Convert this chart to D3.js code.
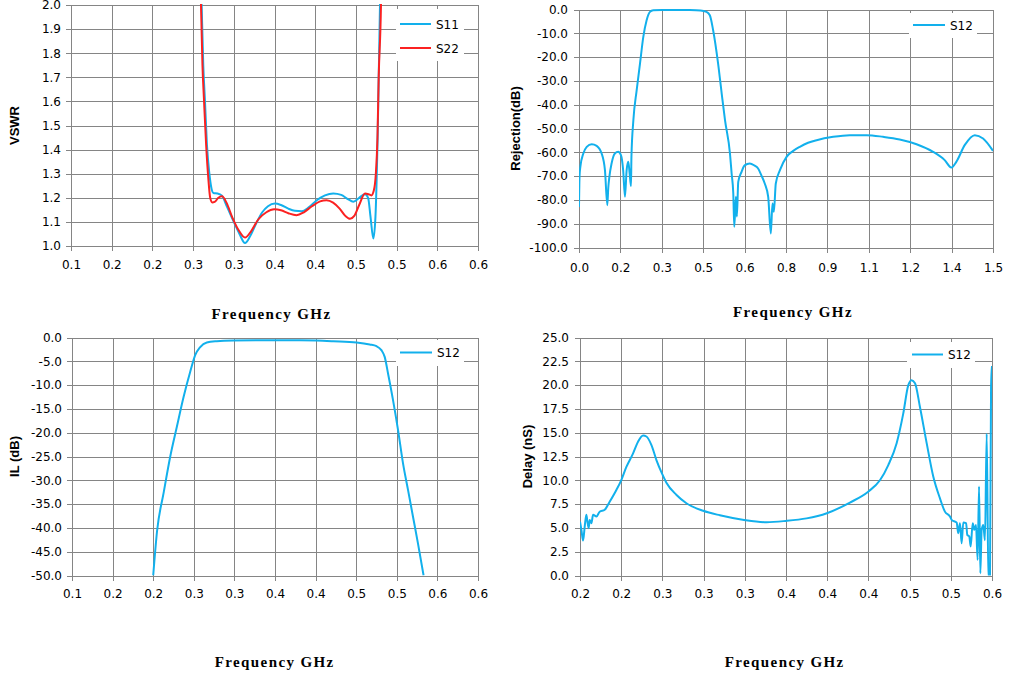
<!DOCTYPE html>
<html><head><meta charset="utf-8">
<script src="https://cdn.jsdelivr.net/npm/d3@7"></script>
<style>body{margin:0;background:#fff}svg{display:block}</style>
</head><body>
<svg id="c" width="1012" height="681"></svg>
<script>
// ---------- DATA ----------
// VSWR panel (top-left)
const vswrS11Freq = [0.255,0.259,0.2605,0.2625,0.2646,0.267,0.270,0.2725,0.2749,0.2800,0.2851,0.292,0.300,0.307,0.3138,0.320,0.327,0.335,0.342,0.3506,0.358,0.367,0.375,0.3834,0.392,0.402,0.412,0.4222,0.432,0.440,0.4469,0.454,0.4612,0.465,0.468,0.4714,0.474,0.4768,0.4796,0.482];
const vswrS11 = [3.0,2.2,2.0,1.75,1.6,1.42,1.3,1.24,1.22,1.218,1.21,1.16,1.10,1.05,1.012,1.04,1.09,1.14,1.165,1.176,1.170,1.155,1.146,1.144,1.16,1.19,1.21,1.218,1.212,1.195,1.184,1.20,1.215,1.20,1.12,1.031,1.12,1.467,2.0,2.6];
const vswrS22Freq = [0.255,0.2585,0.2597,0.2615,0.2634,0.266,0.2687,0.271,0.2735,0.2765,0.281,0.2855,0.291,0.298,0.306,0.3138,0.321,0.330,0.340,0.3495,0.358,0.367,0.377,0.386,0.396,0.406,0.414,0.422,0.430,0.437,0.4428,0.448,0.454,0.4612,0.4655,0.469,0.472,0.4745,0.4765,0.478,0.4808,0.483];
const vswrS22 = [3.0,2.2,2.0,1.75,1.605,1.42,1.28,1.2,1.181,1.183,1.2,1.206,1.18,1.12,1.065,1.035,1.06,1.11,1.14,1.152,1.148,1.136,1.128,1.14,1.165,1.185,1.19,1.18,1.155,1.125,1.113,1.125,1.17,1.218,1.215,1.21,1.23,1.30,1.45,1.7,2.0,2.6];
const vswrXTicks = [0.1,0.15,0.2,0.25,0.3,0.35,0.4,0.45,0.5,0.55,0.6];
const vswrXLabels = ["0.1","0.2","0.2","0.3","0.3","0.4","0.4","0.5","0.5","0.6","0.6"];
const vswrYTicks = [1.0,1.1,1.2,1.3,1.4,1.5,1.6,1.7,1.8,1.9,2.0];

// Rejection panel (top-right)
const rejFreq = [0.000,0.002,0.005,0.0157,0.028,0.046,0.064,0.082,0.094,0.1026,0.106,0.110,0.118,0.130,0.142,0.152,0.160,0.1666,0.1726,0.1786,0.1835,0.1883,0.190,0.197,0.209,0.221,0.233,0.245,0.257,0.269,0.30,0.35,0.40,0.44,0.462,0.474,0.486,0.504,0.517,0.529,0.547,0.553,0.559,0.5626,0.5685,0.572,0.577,0.589,0.600,0.619,0.635,0.649,0.662,0.673,0.6855,0.695,0.701,0.706,0.713,0.728,0.752,0.775,0.800,0.830,0.861,0.921,0.981,1.042,1.102,1.162,1.223,1.283,1.325,1.349,1.367,1.398,1.434,1.464,1.500];
const rejS12 = [-83,-70,-66,-60.5,-57.7,-56.6,-57.3,-60.5,-67.5,-82.2,-75,-70.3,-64.7,-60.5,-59.8,-61.2,-67.5,-78.7,-67.5,-64,-68.9,-74.2,-61.9,-46.5,-33.9,-22.7,-11.5,-4.5,-1.0,-0.3,-0.2,-0.2,-0.25,-0.4,-1.0,-2.4,-8.7,-22.7,-35.3,-46.5,-60.5,-68.9,-77.3,-91.3,-78.7,-87,-72.4,-68.2,-65.5,-64.7,-65.5,-66.8,-70,-73.1,-78.7,-94.1,-81.5,-85,-73.1,-67.5,-61.9,-59.5,-57.7,-56.0,-54.9,-53.5,-52.8,-52.8,-53.5,-54.6,-56.6,-59.8,-63.3,-66.4,-64,-56.9,-52.8,-54.2,-59.4];
const rejXTicks = [0,0.15,0.3,0.45,0.6,0.75,0.9,1.05,1.2,1.35,1.5];
const rejXLabels = ["0.0","0.2","0.3","0.5","0.6","0.8","0.9","1.1","1.2","1.4","1.5"];
const rejYTicks = [-100,-90,-80,-70,-60,-50,-40,-30,-20,-10,0];

// Insertion loss panel (bottom-left)
const ilFreq = [0.2,0.2048,0.213,0.221,0.2292,0.2374,0.2456,0.2517,0.2579,0.266,0.2783,0.2988,0.3397,0.3807,0.401,0.4217,0.4504,0.4667,0.475,0.481,0.4851,0.4892,0.4953,0.5015,0.5076,0.5138,0.5199,0.526,0.533];
const ilS12 = [-50,-40.6,-32.5,-25,-18.7,-12.5,-7.2,-3.7,-2.0,-1.05,-0.78,-0.63,-0.57,-0.57,-0.63,-0.78,-1.05,-1.47,-1.82,-2.66,-4.07,-7.55,-13.1,-19.4,-26.4,-32,-37.6,-43.2,-50];
const ilXTicks = [0.1,0.15,0.2,0.25,0.3,0.35,0.4,0.45,0.5,0.55,0.6];
const ilXLabels = ["0.1","0.2","0.2","0.3","0.3","0.4","0.4","0.5","0.5","0.6","0.6"];
const ilYTicks = [-50,-45,-40,-35,-30,-25,-20,-15,-10,-5,0];

// Group delay panel (bottom-right)
const delayFreq = [0.2000,0.2012,0.2026,0.2040,0.2054,0.2063,0.2074,0.2082,0.2097,0.2111,0.2140,0.2167,0.2210,0.2252,0.2309,0.2350,0.2394,0.2450,0.2493,0.2536,0.2564,0.2607,0.2650,0.2697,0.2734,0.2820,0.2904,0.3046,0.3188,0.3394,0.3585,0.3746,0.3925,0.4097,0.4293,0.4448,0.4548,0.4619,0.4690,0.4746,0.4789,0.4817,0.4846,0.4888,0.4945,0.5001,0.5058,0.5100,0.5143,0.5157,0.5200,0.5213,0.5228,0.5242,0.5256,0.5280,0.5290,0.5307,0.5319,0.5336,0.5350,0.5364,0.5378,0.5390,0.5401,0.5412,0.5426,0.5440,0.5455,0.5469,0.5483,0.5492,0.5500];
const delayS12 = [5.66,4.8,3.67,5.14,6.37,5.66,4.97,5.84,5.5,6.37,6.2,6.7,6.9,7.75,8.99,10.0,11.4,12.8,14.05,14.7,14.6,13.7,12.1,10.7,9.75,8.46,7.59,6.8,6.33,5.84,5.6,5.73,6.0,6.54,7.66,8.8,10.0,11.6,13.9,17.0,20.0,20.52,20.2,17.7,13.9,10.4,8.1,6.71,6.19,5.85,5.56,4.45,5.5,3.4,5.56,5.5,4.27,4.1,3.05,5.5,4.8,5.3,1.64,9.34,0.24,4.8,5.3,3.7,14.9,0.03,0.0,19.8,22];
const delayXTicks = [0.2,0.235,0.27,0.305,0.34,0.375,0.41,0.445,0.48,0.515,0.55];
const delayXLabels = ["0.2","0.2","0.3","0.3","0.3","0.4","0.4","0.4","0.5","0.5","0.6"];
const delayYTicks = [0,2.5,5,7.5,10,12.5,15,17.5,20,22.5,25];

const BLUE = "#12b0ec", RED = "#fb2121", GRID = "#858585";
const TICKFONT = "'DejaVu Sans', Verdana, sans-serif";

// ---------- DRAW ----------
const svg = d3.select("#c");
const zip = (f, v) => f.map((d, i) => [d, v[i]]);

const panels = [
  { id:"p1", left:71, right:478, top:5, bottom:246, xDomain:[0.1,0.6], yDomain:[1,2],
    xTicks:vswrXTicks, xLabels:vswrXLabels, yTicks:vswrYTicks, xPad:9, yPad:5,
    yTitle:"VSWR", yTitleX:19, xTitleX:271.5, xTitleY:319,
    series:[{pts:zip(vswrS11Freq,vswrS11), color:BLUE, name:"S11"},{pts:zip(vswrS22Freq,vswrS22), color:RED, name:"S22"}],
    legend:{x:396,y:9,w:68,h:52,lx1:400,lx2:431,tx:436,rows:[24,48]} },
  { id:"p2", left:579, right:993, top:9.5, bottom:247.5, xDomain:[0,1.5], yDomain:[-100,0],
    xTicks:rejXTicks, xLabels:rejXLabels, yTicks:rejYTicks, xPad:11, yPad:6,
    yTitle:"Rejection(dB)", yTitleX:520, xTitleX:793, xTitleY:317,
    series:[{pts:zip(rejFreq,rejS12), color:BLUE, name:"S12"}],
    legend:{x:909,y:13,w:68,h:25,lx1:913,lx2:945,tx:950,rows:[25]} },
  { id:"p3", left:72, right:478, top:337.5, bottom:575.5, xDomain:[0.1,0.6], yDomain:[-50,0],
    xTicks:ilXTicks, xLabels:ilXLabels, yTicks:ilYTicks, xPad:9, yPad:5,
    yTitle:"IL (dB)", yTitleX:19, xTitleX:274.7, xTitleY:667,
    series:[{pts:zip(ilFreq,ilS12), color:BLUE, name:"S12"}],
    legend:{x:396,y:340,w:68,h:26,lx1:400,lx2:432,tx:437,rows:[352.5]} },
  { id:"p4", left:580, right:992, top:337.5, bottom:575.5, xDomain:[0.2,0.55], yDomain:[0,25],
    xTicks:delayXTicks, xLabels:delayXLabels, yTicks:delayYTicks, xPad:9, yPad:6,
    yTitle:"Delay (nS)", yTitleX:532, xTitleX:784.7, xTitleY:667,
    series:[{pts:zip(delayFreq,delayS12), color:BLUE, name:"S12"}],
    legend:{x:907,y:342,w:68,h:26,lx1:912,lx2:943,tx:948,rows:[354.5]} }
];

panels.forEach(p => {
  const x = d3.scaleLinear().domain(p.xDomain).range([p.left, p.right]);
  const y = d3.scaleLinear().domain(p.yDomain).range([p.bottom, p.top]);
  const g = svg.append("g");
  const h = p.bottom - p.top, w = p.right - p.left;

  // grid (via axes with inner ticks spanning the plot)
  const gx = g.append("g").attr("transform", `translate(0,${p.bottom})`)
    .call(d3.axisBottom(x).tickValues(p.xTicks).tickSize(-h).tickFormat(""));
  const gy = g.append("g").attr("transform", `translate(${p.left},0)`)
    .call(d3.axisLeft(y).tickValues(p.yTicks).tickSize(-w).tickFormat(""));
  [gx, gy].forEach(a => { a.select(".domain").remove();
    a.selectAll("line").attr("stroke", GRID).attr("shape-rendering","crispEdges"); });

  // axes with outward ticks and labels
  const ax = g.append("g").attr("transform", `translate(0,${p.bottom})`)
    .call(d3.axisBottom(x).tickValues(p.xTicks).tickSize(5).tickPadding(p.xPad)
      .tickFormat((d,i) => p.xLabels[i]));
  const ay = g.append("g").attr("transform", `translate(${p.left},0)`)
    .call(d3.axisLeft(y).tickValues(p.yTicks).tickSize(5).tickPadding(p.yPad)
      .tickFormat(d3.format(".1f")));
  [ax, ay].forEach(a => {
    a.select(".domain").attr("stroke", GRID).attr("shape-rendering","crispEdges");
    a.selectAll("line").attr("stroke", GRID).attr("shape-rendering","crispEdges");
    a.selectAll("text").attr("fill","#000").style("font-family",TICKFONT).style("font-size","12px");
  });
  ay.selectAll("text").text(d => d3.format(".1f")(d).replace("−","-"));

  // clip + series
  const cid = "clip-" + p.id;
  svg.append("clipPath").attr("id", cid).append("rect")
    .attr("x", p.left).attr("y", p.top - 1).attr("width", w).attr("height", h + 1);
  const line = d3.line().x(d => x(d[0])).y(d => y(d[1])).curve(d3.curveMonotoneX);
  const sg = g.append("g").attr("clip-path", `url(#${cid})`);
  p.series.forEach(s => {
    sg.append("path").datum(s.pts).attr("d", line)
      .attr("fill","none").attr("stroke", s.color).attr("stroke-width", 2)
      .attr("stroke-linejoin","round");
  });

  // legend
  const L = p.legend;
  g.append("rect").attr("x", L.x).attr("y", L.y).attr("width", L.w).attr("height", L.h).attr("fill","#fff");
  p.series.forEach((s, i) => {
    g.append("line").attr("x1", L.lx1).attr("x2", L.lx2).attr("y1", L.rows[i]).attr("y2", L.rows[i])
      .attr("stroke", s.color).attr("stroke-width", 2);
    g.append("text").attr("x", L.tx).attr("y", L.rows[i] + 4.5).text(s.name)
      .style("font-family", TICKFONT).style("font-size","12px").attr("fill","#000");
  });

  // titles
  g.append("text").attr("x", p.xTitleX).attr("y", p.xTitleY).attr("text-anchor","middle")
    .text("Frequency GHz")
    .style("font-family","'Liberation Serif','Times New Roman',serif").style("font-weight","bold")
    .style("font-size","15px").style("letter-spacing","1.4px");
  g.append("text").attr("transform", `translate(${p.yTitleX},${(p.top+p.bottom)/2}) rotate(-90)`)
    .attr("text-anchor","middle").text(p.yTitle)
    .style("font-family","'Liberation Sans',Arial,sans-serif").style("font-weight","bold").style("font-size","13px");
});
</script>
</body></html>
